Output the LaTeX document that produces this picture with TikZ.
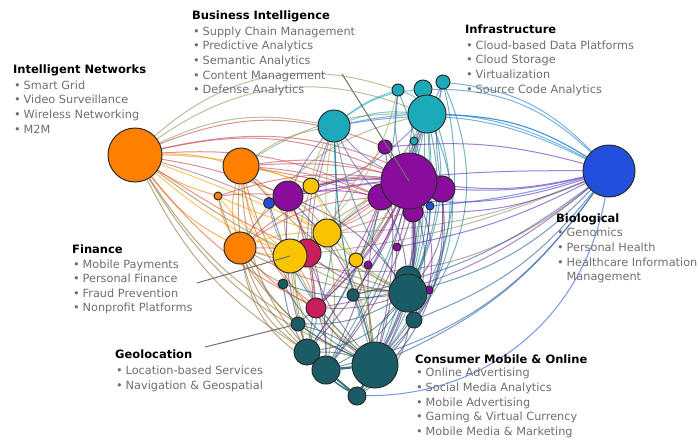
\documentclass[tikz,border=0pt]{standalone}
\usepackage{fontspec}
\setmainfont{DejaVu Sans}
\pgfdeclarelayer{edges}
\pgfsetlayers{edges,main}
\definecolor{cO}{HTML}{FF8000}
\definecolor{cT}{HTML}{1CA9B9}
\definecolor{cP}{HTML}{8A0C9C}
\definecolor{cB}{HTML}{2250DC}
\definecolor{cY}{HTML}{F9C300}
\definecolor{cC}{HTML}{C81E5A}
\definecolor{cD}{HTML}{1A5C66}
\definecolor{itemgray}{HTML}{6E6E6E}
\definecolor{rim}{HTML}{2A2A2A}
\definecolor{callout}{HTML}{707070}
\newcommand\bl{\makebox[10.5pt][l]{\hspace*{1pt}•}}
\newcommand\ttl[1]{{\fontsize{11.5}{14.6}\selectfont\bfseries\color{black}#1}}
\begin{document}
\begin{tikzpicture}[x=1pt,y=-1pt,
  nd/.style={circle,draw=rim,line width=1pt,inner sep=0pt},
  edge/.style={line width=1pt,draw opacity=0.6},
  thick edge/.style={line width=2.4pt,draw opacity=0.85,draw=cD},
  block/.style={anchor=north west,align=left,inner sep=0pt,text=itemgray,
    font=\fontsize{11.3}{14.6}\selectfont},
  calloutline/.style={draw=callout,line width=1pt}]
\useasboundingbox (0,0) rectangle (700,439);

% ---------- nodes (drawn in back-to-front order) ----------
\node[nd,fill=cO,minimum size=54] (O1) at (135,155) {};
\node[nd,fill=cO,minimum size=36] (O2) at (241,166) {};
\node[nd,fill=cO,minimum size=8]  (O3) at (218,196) {};
\node[nd,fill=cO,minimum size=32] (O4) at (240,248) {};
\node[nd,fill=cT,minimum size=32] (T1) at (334,126) {};
\node[nd,fill=cT,minimum size=12] (T3) at (398,90) {};
\node[nd,fill=cT,minimum size=18] (T4) at (423,89) {};
\node[nd,fill=cT,minimum size=14] (T5) at (443,82) {};
\node[nd,fill=cT,minimum size=38] (T2) at (427,114) {};
\node[nd,fill=cT,minimum size=8]  (T6) at (414,141) {};
\node[nd,fill=cP,minimum size=14] (P2) at (385,147) {};
\node[nd,fill=cP,minimum size=26] (P3) at (442,189) {};
\node[nd,fill=cP,minimum size=26] (P4) at (381,197) {};
\node[nd,fill=cP,minimum size=20] (P5) at (413,212) {};
\node[nd,fill=cP,minimum size=56] (P1) at (409,181) {};
\node[nd,fill=cB,minimum size=8]  (B3) at (430,206) {};
\node[nd,fill=cP,minimum size=30] (P6) at (288,196) {};
\node[nd,fill=cP,minimum size=8]  (P7) at (397,247) {};
\node[nd,fill=cP,minimum size=8]  (P8) at (368,265) {};
\node[nd,fill=cP,minimum size=8]  (P9) at (429,290) {};
\node[nd,fill=cB,minimum size=52] (B1) at (609,171) {};
\node[nd,fill=cB,minimum size=11] (B2) at (269,203) {};
\node[nd,fill=cY,minimum size=16] (Y1) at (311,186) {};
\node[nd,fill=cY,minimum size=28] (Y2) at (327,233) {};
\node[nd,fill=cC,minimum size=28] (C1) at (307,253) {};
\node[nd,fill=cY,minimum size=34] (Y3) at (290,256) {};
\node[nd,fill=cY,minimum size=14] (Y4) at (356,260) {};
\node[nd,fill=cC,minimum size=20] (C2) at (316,308) {};
\node[nd,fill=cD,minimum size=10] (D1) at (283,284) {};
\node[nd,fill=cD,minimum size=12] (D2) at (353,295) {};
\node[nd,fill=cD,minimum size=26] (D3) at (408,279) {};
\node[nd,fill=cD,minimum size=38] (D4) at (408,293) {};
\node[nd,fill=cD,minimum size=16] (D5) at (414,320) {};
\node[nd,fill=cD,minimum size=14] (D6) at (298,324) {};
\node[nd,fill=cD,minimum size=26] (D7) at (307,352) {};
\node[nd,fill=cD,minimum size=28] (D8) at (326,370) {};
\node[nd,fill=cD,minimum size=18] (D10) at (357,396) {};
\node[nd,fill=cD,minimum size=46] (D9) at (375,365) {};

% ---------- edges ----------
\begin{pgfonlayer}{edges}
\foreach \a/\b/\bd/\c in {
 O1/O2/8/cO, O1/O3/-8/cO, O1/O4/-12/cO, O1/P6/6/cO!50!cP, O1/Y1/10/cO!50!cY,
 O1/Y3/-8/cO!50!cY, O1/C1/-4/cO!50!cC, O1/P1/18/cO!50!cP, O1/P4/14/cO!50!cP,
 O1/T1/18/cO!50!cT, O1/T2/28/cO!50!cT, O1/T3/30/cO!50!cT, O1/D9/-18/cO!50!cD,
 O1/D7/-15/cO!50!cD, O1/D6/-12/cO!50!cD, O1/Y2/2/cO!50!cY, O1/B2/4/cO!50!cB,
 O1/P3/20/cO!50!cP, O1/C2/-12/cO!50!cC, O1/D4/-10/cO!50!cD, O1/P2/22/cO!50!cP,
 O2/P1/12/cO!50!cP, O2/P6/-10/cO!50!cP, O2/Y2/-10/cO!50!cY, O2/T1/12/cO!50!cT,
 O2/D9/-18/cO!50!cD, O2/O4/-15/cO, O2/D4/-12/cO!50!cD, O2/P4/8/cO!50!cP,
 O2/C2/-20/cO!50!cC, O2/T2/16/cO!50!cT, O2/Y3/-20/cO!50!cY, O2/D7/-25/cO!50!cD,
 O2/P3/10/cO!50!cP, O2/Y1/5/cO!50!cY, O2/P5/6/cO!50!cP, O2/D8/-20/cO!50!cD,
 O4/Y3/-5/cO!50!cY, O4/C1/5/cO!50!cC, O4/P1/18/cO!50!cP, O4/D7/-20/cO!50!cD,
 O4/D9/-18/cO!50!cD, O4/Y2/10/cO!50!cY, O4/P6/12/cO!50!cP, O4/O3/10/cO,
 O4/T2/22/cO!50!cT, O4/D4/-12/cO!50!cD, O4/B1/-28/cO!50!cB, O4/C2/-10/cO!50!cC,
 O4/D1/-10/cO!50!cD, O4/P4/15/cO!50!cP, O4/D8/-25/cO!50!cD,
 O3/P6/5/cO!50!cP, O3/Y3/-10/cO!50!cY, O3/D6/-15/cO!50!cD, O3/P1/12/cO!50!cP,
 O3/Y2/-5/cO!50!cY,
 T1/P1/-10/cT!50!cP, T1/T2/12/cT, T1/P4/-8/cT!50!cP, T1/Y1/-10/cT!50!cY,
 T1/D4/-12/cT!50!cD, T1/D9/-8/cT!50!cD, T1/Y2/-6/cT!50!cY, T1/B1/18/cT!50!cB,
 T1/P6/-8/cT!50!cP, T1/C1/-10/cT!50!cC, T1/D7/10/cT!50!cD, T1/T4/15/cT,
 T2/P1/-10/cT!50!cP, T2/B1/15/cT!50!cB, T2/D4/18/cT!50!cD, T2/D9/15/cT!50!cD,
 T2/P4/10/cT!50!cP, T2/P5/-15/cT!50!cP, T2/Y2/10/cT!50!cY, T2/T3/-15/cT,
 T2/T4/10/cT, T2/T5/-10/cT, T2/D5/28/cT!50!cD, T2/D10/20/cT!50!cD,
 T2/P6/15/cT!50!cP, T2/C2/12/cT!50!cC, T2/D8/10/cT!50!cD, T2/Y3/15/cT!50!cY,
 T3/P1/-12/cT!50!cP, T4/P1/-8/cT!50!cP, T5/P1/-5/cT!50!cP, T4/D4/22/cT!50!cD,
 T5/D9/25/cT!50!cD, T5/B1/20/cT!50!cB, T3/T1/-10/cT, T4/B1/22/cT!50!cB,
 T3/D7/15/cT!50!cD, T5/P3/-10/cT!50!cP, T3/D4/18/cT!50!cD, T4/D9/12/cT!50!cD,
 T5/D5/30/cT!50!cD, T3/Y3/18/cT!50!cY, T6/P1/-5/cT!50!cP, T6/D4/10/cT!50!cD,
 T1/D2/-5/cT!50!cD, T2/Y4/8/cT!50!cY, T4/D5/26/cT!50!cD, T1/C2/-12/cT!50!cC,
 B1/P1/10/cB!50!cP, B1/P3/8/cB!50!cP, B1/T2/-15/cB!50!cT, B1/D4/15/cB!50!cD,
 B1/D9/15/cB!50!cD, B1/D10/40/cB, B1/P4/12/cB!50!cP, B1/Y2/10/cB!50!cY,
 B1/P5/12/cB!50!cP, B1/C2/15/cB!50!cC, B1/T1/-20/cB!50!cT, B1/P2/-10/cB!50!cP,
 B1/D5/15/cB!50!cD, B1/B3/5/cB, B1/Y3/8/cB!50!cY, B1/P6/-5/cB!50!cP,
 B1/D8/20/cB!50!cD, B1/P7/8/cB!50!cP, B1/D2/12/cB!50!cD,
 B2/P6/5/cB, B2/Y3/-10/cB!50!cY, B2/P1/12/cB!50!cP, B2/D9/-15/cB!50!cD,
 B2/Y2/8/cB!50!cY, B3/D4/10/cB!50!cD, B3/P4/5/cB!50!cP,
 P1/P6/-12/cP, P1/Y1/-10/cP!50!cY, P1/Y2/8/cP!50!cY, P1/D4/10/cP!50!cD,
 P1/D9/15/cP!50!cD, P1/D5/15/cP!50!cD, P1/D7/10/cP!50!cD, P1/D8/12/cP!50!cD,
 P1/C2/10/cP!50!cC, P1/P7/5/cP, P1/P8/8/cP, P1/P9/15/cP, P1/D2/8/cP!50!cD,
 P1/Y4/6/cP!50!cY, P1/Y3/-8/cP!50!cY, P1/C1/-6/cP!50!cC, P1/D6/10/cP!50!cD,
 P1/D10/20/cP!50!cD, P4/D4/12/cP!50!cD, P4/D9/-10/cP!50!cD, P4/Y2/5/cP!50!cY,
 P4/P6/-10/cP, P3/D4/20/cP!50!cD, P3/D9/25/cP!50!cD, P5/D9/15/cP!50!cD,
 P5/D4/8/cP!50!cD, P6/Y3/-10/cP!50!cY, P6/Y1/5/cP!50!cY, P6/Y2/10/cP!50!cY,
 P6/D9/15/cP!50!cD, P6/D7/-10/cP!50!cD, P6/C1/5/cP!50!cC, P6/D4/15/cP!50!cD,
 P2/D4/20/cP!50!cD, P2/D9/10/cP!50!cD, P2/Y2/-10/cP!50!cY, P7/D9/5/cP!50!cD,
 P8/D8/5/cP!50!cD, P9/D9/5/cP!50!cD, P4/D7/8/cP!50!cD, P5/D8/10/cP!50!cD,
 P3/D10/25/cP!50!cD, P6/D8/12/cP!50!cD, P4/C2/8/cP!50!cC, P5/Y3/-8/cP!50!cY,
 Y3/D7/-5/cY!50!cD, Y3/D8/-8/cY!50!cD, Y3/D9/-10/cY!50!cD, Y3/Y2/5/cY,
 Y3/D4/-12/cY!50!cD, Y2/D4/-8/cY!50!cD, Y2/D9/10/cY!50!cD, Y2/Y4/5/cY,
 Y1/Y2/10/cY, Y3/C2/10/cY!50!cC, Y4/D9/5/cY!50!cD, Y4/D4/-10/cY!50!cD,
 Y1/D9/15/cY!50!cD, Y3/D1/5/cY!50!cD, Y1/D7/-15/cY!50!cD, Y2/D8/10/cY!50!cD,
 C1/D9/-10/cC!50!cD, C1/D7/10/cC!50!cD, C1/C2/5/cC, C2/D9/-10/cC!50!cD,
 C2/D4/-10/cC!50!cD, C2/D8/10/cC!50!cD, C1/D4/-15/cC!50!cD,
 D9/D4/20/cD, D9/D7/-10/cD, D9/D6/-10/cD, D5/D9/10/cD, D5/D4/10/cD,
 D1/D9/-15/cD, D2/D9/5/cD, D2/D4/10/cD, D6/D4/-15/cD, D7/D4/-20/cD,
 D8/D4/-15/cD, D10/D4/-30/cD, D1/D7/-10/cD, D6/D9/-5/cD, D1/D4/-12/cD}
 {\draw[edge,draw=\c] (\a) to[bend left=\bd] (\b);}
\draw[thick edge] (D8) -- (D9);
\draw[thick edge,line width=2pt] (D9) -- (D10);
\draw[thick edge,line width=2pt] (D8) -- (D10);
\draw[thick edge,line width=2pt] (D7) -- (D8);
\draw[thick edge,line width=1.5pt] (D7) to[bend right=10] (D10);
\end{pgfonlayer}

% ---------- callout lines ----------
\coordinate (biEnd) at (342,74);
\coordinate (fiEnd) at (197,283);
\coordinate (geEnd) at (205,347);
\draw[calloutline] (biEnd) -- (P1.center);
\draw[calloutline] (fiEnd) -- (Y3.center);
\draw[calloutline] (geEnd) -- (D6);

% ---------- text blocks ----------
\node[block] (bi) at (192,10.4) {\ttl{Business Intelligence}\\[1.4pt]
 \bl Supply Chain Management\\ \bl Predictive Analytics\\ \bl Semantic Analytics\\
 \bl Content Management\\ \bl Defense Analytics};
\node[block] (in) at (13,64.4) {\ttl{Intelligent Networks}\\[1.4pt]
 \bl Smart Grid\\ \bl Video Surveillance\\ \bl Wireless Networking\\ \bl M2M};
\node[block] (inf) at (465,24.4) {\ttl{Infrastructure}\\[1.4pt]
 \bl Cloud-based Data Platforms\\ \bl Cloud Storage\\ \bl Virtualization\\
 \bl Source Code Analytics};
\node[block] (fin) at (72,244.6) {\ttl{Finance}\\[0pt]
 \bl Mobile Payments\\ \bl Personal Finance\\ \bl Fraud Prevention\\
 \bl Nonprofit Platforms};
\node[block] (geo) at (115,349.4) {\ttl{Geolocation}\\[2pt]
 \bl Location-based Services\\ \bl Navigation \& Geospatial};
\node[block] (con) at (415,354.4) {\ttl{Consumer Mobile \& Online}\\[-1pt]
 \bl Online Advertising\\ \bl Social Media Analytics\\ \bl Mobile Advertising\\
 \bl Gaming \& Virtual Currency\\ \bl Mobile Media \& Marketing};
\node[block] (bio) at (556,213.4) {\ttl{Biological}\\[0pt]
 \bl Genomics\\ \bl Personal Health\\ \bl Healthcare Information\\
 \hspace*{10.5pt}Management};
\end{tikzpicture}
\end{document}
